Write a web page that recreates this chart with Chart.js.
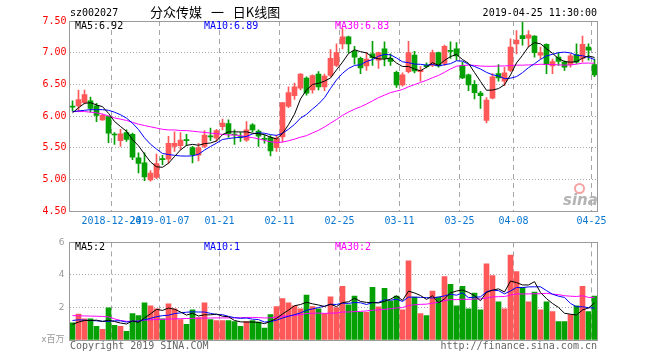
<!DOCTYPE html>
<html>
<head>
<meta charset="utf-8">
<title>分众传媒 日K线图</title>
<script src="https://cdn.jsdelivr.net/npm/chart.js@4.4.1/dist/chart.umd.min.js"></script>
<style>
    body { margin: 0; background: #fff; width: 660px; height: 360px; position: relative; overflow: hidden; }
    canvas { position: absolute; left: 0; }
    #kline { top: 0; }
    #vol { top: 232px; }
    .t { position: absolute; font-family: 'DejaVu Sans Mono', monospace; font-size: 10px; line-height: 10px; white-space: nowrap; color: #000; }
    .title { font-family: 'Noto Sans CJK SC', sans-serif; font-size: 13px; line-height: 13px; word-spacing: 6px; }
    .logo { position: absolute; left: 563px; top: 191px; font-family: 'DejaVu Sans', sans-serif; font-style: italic; font-weight: bold; font-size: 15px; color: #b4b4b4; }
    .eye { position: absolute; left: 574px; top: 183px; width: 7px; height: 7px; border: 2px solid #f5a3a3; border-radius: 50%; }
</style>
</head>
<body>
<canvas id="kline" width="660" height="232"></canvas>
<canvas id="vol" width="660" height="128"></canvas>

<div class="t" style="left:70px;top:8px">sz002027</div>
<div class="t title" style="left:150px;top:5px">分众传媒 一 日K线图</div>
<div class="t" style="right:63px;top:8px">2019-04-25 11:30:00</div>

<div class="t" id="lbl-ma5" style="left:75px;top:21px"></div>
<div class="t" id="lbl-ma10" style="left:204px;top:21px;color:#0000ff"></div>
<div class="t" id="lbl-ma30" style="left:335px;top:21px;color:#ff00ff"></div>

<div class="t" id="vlbl-ma5" style="left:75px;top:242px"></div>
<div class="t" id="vlbl-ma10" style="left:204px;top:242px;color:#0000ff"></div>
<div class="t" id="vlbl-ma30" style="left:335px;top:242px;color:#ff00ff"></div>

<div class="eye"></div>
<div class="logo">sina</div>

<div class="t" style="left:70px;top:341px;color:#666">Copyright 2019 SINA.COM</div>
<div class="t" style="right:63px;top:341px;color:#666">http://finance.sina.com.cn</div>

<script>
// trading days shown on the chart
const dates = [
    '2018-12-13', '2018-12-14', '2018-12-17', '2018-12-18', '2018-12-19', '2018-12-20', '2018-12-21',
    '2018-12-24', '2018-12-25', '2018-12-26', '2018-12-27', '2018-12-28',
    '2019-01-02', '2019-01-03', '2019-01-04', '2019-01-07', '2019-01-08', '2019-01-09', '2019-01-10',
    '2019-01-11', '2019-01-14', '2019-01-15', '2019-01-16', '2019-01-17', '2019-01-18', '2019-01-21',
    '2019-01-22', '2019-01-23', '2019-01-24', '2019-01-25', '2019-01-28', '2019-01-29', '2019-01-30',
    '2019-01-31', '2019-02-01', '2019-02-11', '2019-02-12', '2019-02-13', '2019-02-14', '2019-02-15',
    '2019-02-18', '2019-02-19', '2019-02-20', '2019-02-21', '2019-02-22', '2019-02-25', '2019-02-26',
    '2019-02-27', '2019-02-28', '2019-03-01', '2019-03-04', '2019-03-05', '2019-03-06', '2019-03-07',
    '2019-03-08', '2019-03-11', '2019-03-12', '2019-03-13', '2019-03-14', '2019-03-15', '2019-03-18',
    '2019-03-19', '2019-03-20', '2019-03-21', '2019-03-22', '2019-03-25', '2019-03-26', '2019-03-27',
    '2019-03-28', '2019-03-29', '2019-04-01', '2019-04-02', '2019-04-03', '2019-04-04', '2019-04-08',
    '2019-04-09', '2019-04-10', '2019-04-11', '2019-04-12', '2019-04-15', '2019-04-16', '2019-04-17',
    '2019-04-18', '2019-04-19', '2019-04-22', '2019-04-23', '2019-04-24', '2019-04-25'
];

const opens = [
    6.15, 6.16, 6.21, 6.24, 6.16, 5.94, 5.99, 5.71, 5.61, 5.74,
    5.71, 5.34, 5.26, 4.99, 5.03, 5.32, 5.32, 5.52, 5.53, 5.62,
    5.50, 5.38, 5.52, 5.68, 5.65, 5.83, 5.88, 5.71, 5.67, 5.62,
    5.86, 5.76, 5.64, 5.66, 5.50, 5.67, 6.15, 6.32, 6.44, 6.60,
    6.41, 6.66, 6.46, 6.64, 6.80, 7.14, 7.25, 7.02, 6.91, 6.79,
    6.98, 6.88, 7.06, 6.91, 6.69, 6.49, 6.70, 6.96, 6.70, 6.80,
    6.80, 7.00, 6.83, 7.03, 7.06, 6.80, 6.65, 6.50, 6.36, 5.93,
    6.28, 6.67, 6.55, 6.72, 7.14, 7.27, 7.23, 7.26, 6.96, 7.13,
    6.79, 6.93, 6.85, 6.81, 6.97, 6.91, 7.09, 6.81
];
const highs = [
    6.24, 6.41, 6.41, 6.30, 6.20, 6.03, 6.00, 5.74, 5.79, 5.78,
    5.73, 5.42, 5.42, 5.14, 5.40, 5.38, 5.68, 5.75, 5.74, 5.71,
    5.52, 5.57, 5.77, 5.81, 5.79, 5.95, 5.94, 5.78, 5.74, 5.91,
    5.88, 5.78, 5.70, 5.69, 5.70, 6.21, 6.46, 6.52, 6.67, 6.62,
    6.65, 6.70, 6.66, 7.05, 7.14, 7.38, 7.26, 7.10, 6.93, 7.00,
    7.18, 7.01, 7.17, 6.98, 6.71, 6.68, 7.18, 7.02, 6.78, 6.84,
    7.04, 7.01, 7.12, 7.17, 7.16, 6.85, 6.66, 6.56, 6.39, 6.29,
    6.67, 6.81, 6.77, 7.22, 7.35, 7.52, 7.35, 7.27, 7.09, 7.14,
    6.90, 7.00, 6.87, 6.98, 7.14, 7.26, 7.14, 6.90
];
const lows = [
    6.08, 6.08, 6.19, 6.06, 5.91, 5.93, 5.58, 5.55, 5.52, 5.60,
    5.31, 5.10, 4.98, 4.97, 5.01, 5.23, 5.25, 5.44, 5.47, 5.53,
    5.26, 5.29, 5.50, 5.61, 5.60, 5.78, 5.66, 5.55, 5.60, 5.60,
    5.75, 5.52, 5.57, 5.37, 5.44, 5.59, 6.13, 6.26, 6.41, 6.33,
    6.36, 6.41, 6.40, 6.62, 6.78, 7.06, 7.00, 6.82, 6.67, 6.72,
    6.80, 6.75, 6.79, 6.80, 6.45, 6.47, 6.68, 6.68, 6.55, 6.76,
    6.78, 6.77, 6.80, 6.91, 6.88, 6.59, 6.40, 6.27, 6.12, 5.89,
    6.27, 6.55, 6.48, 6.70, 6.98, 7.12, 7.09, 6.93, 6.90, 6.67,
    6.67, 6.80, 6.72, 6.77, 6.83, 6.85, 6.88, 6.62
];
const closes = [
    6.14, 6.26, 6.34, 6.12, 6.01, 6.01, 5.73, 5.70, 5.72, 5.63,
    5.35, 5.25, 5.04, 5.10, 5.25, 5.31, 5.57, 5.57, 5.62, 5.61,
    5.39, 5.50, 5.70, 5.67, 5.77, 5.89, 5.72, 5.70, 5.66, 5.78,
    5.78, 5.68, 5.63, 5.45, 5.65, 6.21, 6.37, 6.46, 6.66, 6.36,
    6.64, 6.46, 6.63, 6.91, 7.00, 7.25, 7.14, 6.93, 6.76, 6.90,
    6.92, 7.00, 6.91, 6.86, 6.49, 6.65, 7.00, 6.71, 6.72, 6.78,
    7.00, 6.79, 7.10, 7.02, 6.95, 6.60, 6.49, 6.37, 6.32, 6.25,
    6.62, 6.60, 6.68, 7.09, 7.20, 7.22, 7.28, 7.00, 7.00, 6.81,
    6.86, 6.86, 6.77, 6.95, 6.85, 7.13, 7.04, 6.65
];

// volume, millions of shares
const volumes = [
    1.06, 1.60, 1.30, 1.30, 0.84, 0.66, 1.98, 0.90, 0.84, 0.54,
    1.62, 1.50, 2.28, 2.10, 1.92, 1.30, 2.22, 1.92, 1.26, 0.96,
    1.86, 1.38, 2.28, 1.26, 1.20, 1.20, 1.20, 1.14, 0.84, 1.14,
    1.20, 1.10, 0.74, 1.56, 2.06, 2.54, 2.28, 2.10, 1.92, 2.76,
    2.06, 1.92, 1.62, 2.66, 2.00, 3.30, 2.16, 2.70, 1.70, 1.70,
    3.24, 2.04, 3.18, 2.40, 2.70, 1.86, 4.86, 2.64, 1.62, 1.50,
    3.00, 2.64, 3.90, 3.42, 2.10, 3.30, 1.92, 2.88, 1.86, 4.68,
    3.96, 2.34, 1.92, 5.22, 4.20, 3.24, 2.34, 2.94, 1.86, 2.34,
    1.74, 1.14, 1.14, 1.56, 2.10, 3.30, 1.74, 2.70
];

// moving-average values before the window is full
const ma5Head = [6.05, 6.13, 6.20, 6.21];
const ma10Head = [6.07, 6.08, 6.09, 6.10, 6.10, 6.10, 6.09, 6.06, 6.02];
const ma30Head = [
    6.07, 6.07, 6.07, 6.06, 6.05, 6.03, 6.00, 5.97, 5.95, 5.93,
    5.90, 5.87, 5.85, 5.83, 5.81, 5.79, 5.78, 5.78, 5.77, 5.77,
    5.76, 5.75, 5.74, 5.73, 5.72, 5.71, 5.70, 5.70, 5.69
];
const volMa5Head = [0.96, 1.10, 1.20, 1.20];
const volMa10Head = [1.20, 1.24, 1.22, 1.20, 1.18, 1.15, 1.15, 1.18, 1.18];
const volMa30Head = [
    1.50, 1.49, 1.48, 1.47, 1.46, 1.45, 1.42, 1.30, 1.20, 1.15,
    1.15, 1.16, 1.22, 1.24, 1.26, 1.27, 1.29, 1.30, 1.31, 1.32,
    1.33, 1.34, 1.35, 1.35, 1.36, 1.36, 1.36, 1.36, 1.37
];

const tickDates = ['2018-12-24', '2019-01-07', '2019-01-21', '2019-02-11', '2019-02-25',
    '2019-03-11', '2019-03-25', '2019-04-08', '2019-04-25'];
const priceTicks = [4.5, 5.0, 5.5, 6.0, 6.5, 7.0, 7.5];
const volTicks = [0, 2, 4, 6];

const UP = '#ff5858';
const DOWN = '#04a004';
const GRID = '#a6a6a6';
const MONO = 'DejaVu Sans Mono';

function movingAvg(values, n, head) {
    return values.map((v, i) => {
        if (i < n - 1) return head[i];
        const win = values.slice(i - n + 1, i + 1);
        return win.reduce((s, x) => s + x, 0) / n;
    });
}

function candleColor(i) {
    return closes[i] >= opens[i] ? UP : DOWN;
}

function tickLabel(i) {
    const k = tickDates.indexOf(dates[i]);
    if (k < 0) return '';
    return k < 2 ? dates[i] : dates[i].slice(5);
}

function xGridColor(ctx) {
    if (!ctx.tick) return 'transparent';
    return tickDates.includes(dates[ctx.tick.value]) ? GRID : 'transparent';
}

// plot frame drawn on top of everything
const frame = {
    id: 'frame',
    afterDatasetsDraw(chart) {
        const { ctx, chartArea: a } = chart;
        const l = Math.floor(a.left) + 0.5, r = Math.floor(a.right) + 0.5;
        const t = Math.floor(a.top) + 0.5, b = Math.floor(a.bottom) + 0.5;
        ctx.save();
        ctx.strokeStyle = '#9a9a9a';
        ctx.lineWidth = 1;
        ctx.strokeRect(l, t, r - l, b - t);
        ctx.restore();
    }
};

function xScale(showTicks) {
    return {
        type: 'category',
        offset: true,
        afterFit: s => { s.height = showTicks ? 21 : 20; },
        grid: { offset: true, drawTicks: false, color: xGridColor, lineWidth: 1 },
        border: { display: false, dash: [5, 4] },
        ticks: {
            display: showTicks,
            autoSkip: false,
            maxRotation: 0,
            minRotation: 0,
            padding: 4,
            labelOffset: -3,
            color: '#0a78d2',
            font: { family: MONO, size: 10 },
            callback: (v, i) => tickLabel(i)
        }
    };
}

function lineSet(data, color) {
    return {
        type: 'line',
        data: data,
        borderColor: color,
        borderWidth: 1,
        pointRadius: 0,
        tension: 0,
        fill: false,
        order: 0
    };
}

const ma5 = movingAvg(closes, 5, ma5Head);
const ma10 = movingAvg(closes, 10, ma10Head);
const ma30 = movingAvg(closes, 30, ma30Head);
const volMa5 = movingAvg(volumes, 5, volMa5Head);
const volMa10 = movingAvg(volumes, 10, volMa10Head);
const volMa30 = movingAvg(volumes, 30, volMa30Head);

const last = dates.length - 1;
document.getElementById('lbl-ma5').textContent = 'MA5:' + ma5[last].toFixed(2);
document.getElementById('lbl-ma10').textContent = 'MA10:' + ma10[last].toFixed(2);
document.getElementById('lbl-ma30').textContent = 'MA30:' + ma30[last].toFixed(2);
document.getElementById('vlbl-ma5').textContent = 'MA5:' + Math.floor(volMa5[last]);
document.getElementById('vlbl-ma10').textContent = 'MA10:' + Math.floor(volMa10[last]);
document.getElementById('vlbl-ma30').textContent = 'MA30:' + Math.floor(volMa30[last]);

// K line
new Chart(document.getElementById('kline'), {
    type: 'bar',
    data: {
        labels: dates,
        datasets: [
            lineSet(ma5, '#000000'),
            lineSet(ma10, '#0000ff'),
            lineSet(ma30, '#ff00ff'),
            {
                data: opens.map((o, i) => [o, closes[i]]),
                backgroundColor: ctx => candleColor(ctx.dataIndex),
                barThickness: 5,
                minBarLength: 1,
                grouped: false,
                order: 1
            },
            {
                data: lows.map((l, i) => [l, highs[i]]),
                backgroundColor: ctx => candleColor(ctx.dataIndex),
                barThickness: 1,
                grouped: false,
                order: 2
            }
        ]
    },
    options: {
        responsive: false,
        animation: false,
        layout: { padding: { top: 21, right: 62.5, left: 0, bottom: 0 } },
        plugins: { legend: { display: false }, tooltip: { enabled: false } },
        scales: {
            x: xScale(true),
            y: {
                min: priceTicks[0],
                max: priceTicks[priceTicks.length - 1],
                afterFit: s => { s.width = 69.5; },
                afterBuildTicks: s => { s.ticks = priceTicks.map(v => ({ value: v })); },
                grid: {
                    drawTicks: false,
                    color: ctx => (ctx.tick && ctx.tick.value > priceTicks[0] && ctx.tick.value < priceTicks[priceTicks.length - 1]) ? GRID : 'transparent'
                },
                border: { display: false, dash: [1, 2] },
                ticks: {
                    padding: 3,
                    color: '#ff0000',
                    font: { family: MONO, size: 10 },
                    callback: v => v.toFixed(2)
                }
            }
        }
    },
    plugins: [frame]
});

// volume
new Chart(document.getElementById('vol'), {
    type: 'bar',
    data: {
        labels: dates,
        datasets: [
            lineSet(volMa5, '#000000'),
            lineSet(volMa10, '#0000ff'),
            lineSet(volMa30, '#ff00ff'),
            {
                data: volumes,
                backgroundColor: ctx => candleColor(ctx.dataIndex),
                barThickness: 5,
                grouped: false,
                order: 1
            }
        ]
    },
    options: {
        responsive: false,
        animation: false,
        layout: { padding: { top: 8, right: 62.5, left: 0, bottom: 0 } },
        plugins: { legend: { display: false }, tooltip: { enabled: false } },
        scales: {
            x: xScale(false),
            y: {
                min: volTicks[0],
                max: volTicks[volTicks.length - 1],
                afterFit: s => { s.width = 69.5; },
                afterBuildTicks: s => { s.ticks = volTicks.map(v => ({ value: v })); },
                grid: {
                    drawTicks: false,
                    color: ctx => (ctx.tick && ctx.tick.value > volTicks[0] && ctx.tick.value < volTicks[volTicks.length - 1]) ? GRID : 'transparent'
                },
                border: { display: false, dash: [1, 2] },
                ticks: {
                    padding: 5,
                    color: '#999999',
                    font: { family: "'DejaVu Sans', 'Noto Sans CJK SC'", size: 9 },
                    callback: v => v === 0 ? 'x百万' : String(v)
                }
            }
        }
    },
    plugins: [frame]
});
</script>
</body>
</html>
